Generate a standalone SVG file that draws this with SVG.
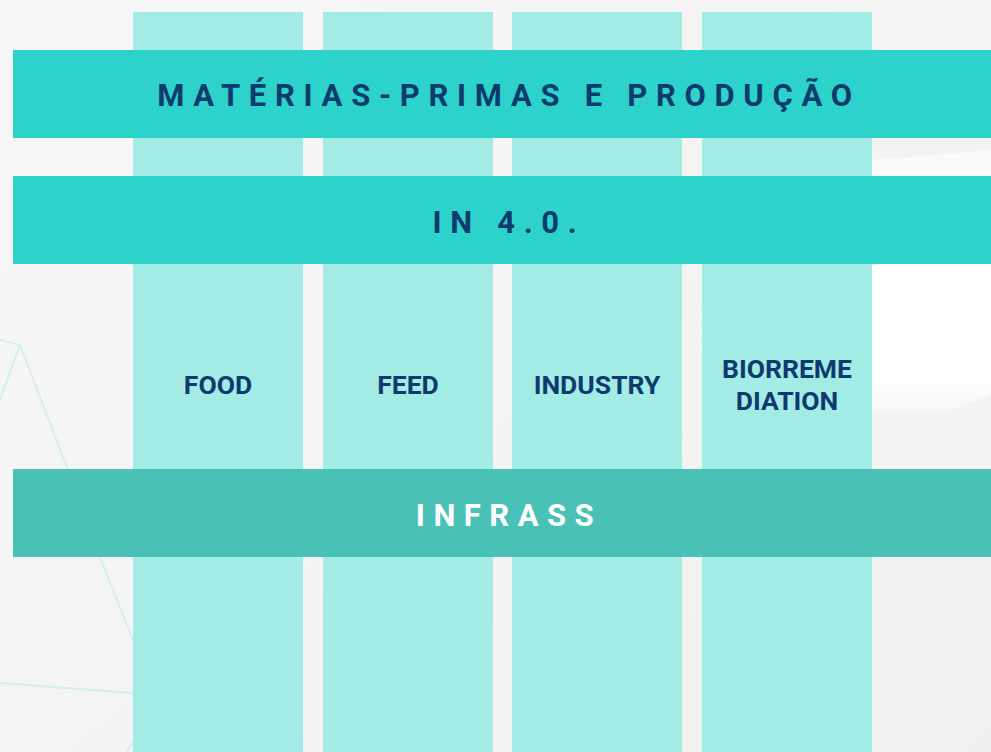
<svg xmlns="http://www.w3.org/2000/svg" width="991" height="752" viewBox="0 0 991 752">
<defs>
<linearGradient id="bg" x1="0" y1="0" x2="1" y2="1">
<stop offset="0" stop-color="#F7F7F7"/>
<stop offset="0.5" stop-color="#F4F4F4"/>
<stop offset="1" stop-color="#EFEFEF"/>
</linearGradient>
<linearGradient id="wr" x1="0" y1="0" x2="0" y2="1">
<stop offset="0" stop-color="#FFFFFF"/>
<stop offset="0.75" stop-color="#FFFFFF"/>
<stop offset="1" stop-color="#F6F6F6"/>
</linearGradient>
<style>
.col{fill:#A3ECE6}
.band{fill:#2DD2CA}
.band2{fill:#4AC1B7}
.hd{font-family:Roboto,"Liberation Sans",sans-serif;font-weight:700;font-size:31px;letter-spacing:8.7px;fill:#0D3B6E;text-anchor:middle}
.hd2{font-family:Roboto,"Liberation Sans",sans-serif;font-weight:700;font-size:31px;letter-spacing:8.5px;fill:#FFFFFF;text-anchor:middle}
.lb{font-family:Roboto,"Liberation Sans",sans-serif;font-weight:700;font-size:26.5px;fill:#0D3B6E;text-anchor:middle}
.bgl{stroke:#D3EEEC;stroke-width:2;fill:none}
</style>
</defs>
<rect x="0" y="0" width="991" height="752" fill="url(#bg)"/>
<rect x="872" y="264" width="119" height="150" fill="url(#wr)"/>
<polygon points="872,160 991,150 991,176 872,176" fill="#FAFAFA"/>
<polygon points="872,440 991,395 991,469 872,469" fill="#F3F3F3"/>
<g class="bgl">
<path d="M0,340 L20,345 L68,470"/>
<path d="M20,345 L0,400"/>
<path d="M100,557 L133,640"/>
<path d="M0,683 L133,693"/>
<path d="M133,742 L126,752"/>
</g>
<g id="columns">
<rect id="col-food" class="col" x="133" y="12" width="170" height="740"/>
<rect id="col-feed" class="col" x="323" y="12" width="170" height="740"/>
<rect id="col-industry" class="col" x="512" y="12" width="170" height="740"/>
<rect id="col-bio" class="col" x="702" y="12" width="170" height="740"/>
</g>
<g id="band-materias">
<rect class="band" x="13" y="50" width="978" height="88"/>
<text class="hd" x="509" y="106">MATÉRIAS-PRIMAS E PRODUÇÃO</text>
</g>
<g id="band-in40">
<rect class="band" x="13" y="176" width="978" height="88"/>
<text class="hd" x="509" y="233">IN 4.0.</text>
</g>
<g id="food"><text class="lb" x="218" y="394">FOOD</text></g>
<g id="feed"><text class="lb" x="408" y="394">FEED</text></g>
<g id="industry"><text class="lb" x="597" y="394">INDUSTRY</text></g>
<g id="bio"><text class="lb" x="787" y="378">BIORREME</text><text class="lb" x="787" y="410">DIATION</text></g>
<g id="band-infrass">
<rect class="band2" x="13" y="469" width="978" height="88"/>
<text class="hd2" x="509" y="526">INFRASS</text>
</g>
<g id="connectors"/>
</svg>
